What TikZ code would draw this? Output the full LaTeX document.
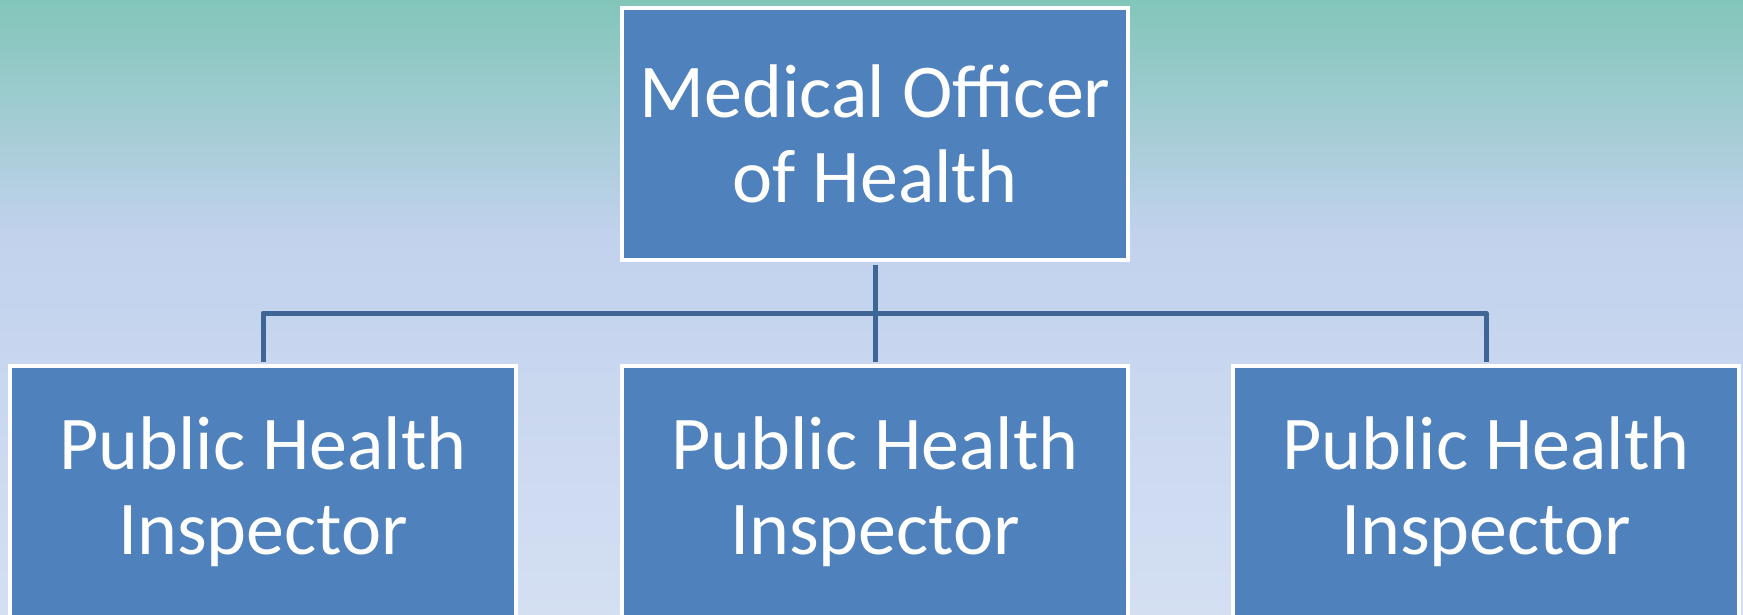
\documentclass[tikz,border=0pt]{standalone}
\usepackage{fontspec}
\setmainfont{Carlito}
\definecolor{bgtop}{RGB}{130,198,185}
\definecolor{bgmid}{RGB}{194,210,237}
\definecolor{bgbot}{RGB}{212,223,242}
\definecolor{boxblue}{RGB}{79,129,189}
\definecolor{connblue}{RGB}{63,101,151}
\tikzset{
  orgbox/.style={rectangle, draw=white, line width=4.5pt, fill=boxblue,
    minimum width=506pt, minimum height=252pt, inner sep=0pt, text=white,
    align=center, font=\fontsize{76}{85}\selectfont},
  conn/.style={draw=connblue, line width=5pt, line join=round},
}
\begin{document}
\begin{tikzpicture}[x=1pt,y=-1pt]
\useasboundingbox (0,0) rectangle (1743,615);
\shade[top color=bgtop, bottom color=bgmid] (0,0) rectangle (1743,236);
\shade[top color=bgmid, bottom color=bgbot] (0,235) rectangle (1743,615);
\node[orgbox] (top) at (875,134) {Medical Officer\\of Health};
\node[orgbox] (left) at (263,492) {Public Health\\Inspector};
\node[orgbox] (mid) at (875,492) {Public Health\\Inspector};
\node[orgbox] (right) at (1486,492) {Public Health\\Inspector};
\coordinate (bus) at (875,313);
\draw[conn, shorten <=2.25pt] (top.south) -- (bus);
\draw[conn, shorten <=2.25pt, shorten >=2.25pt] (left.north) |- (bus) -| (right.north);
\draw[conn, shorten >=2.25pt] (bus) -- (mid.north);
\end{tikzpicture}
\end{document}
